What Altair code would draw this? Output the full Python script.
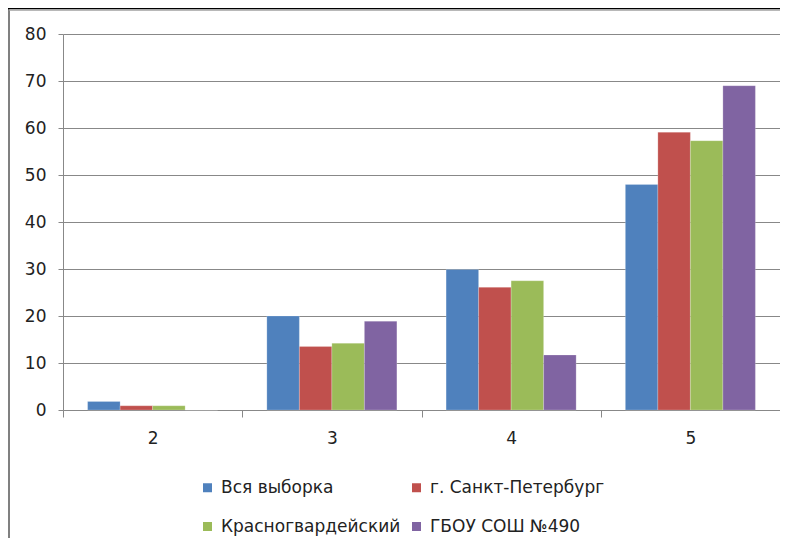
import altair as alt
import pandas as pd

categories = ["2", "3", "4", "5"]
series = ["Вся выборка", "г. Санкт-Петербург", "Красногвардейский", "ГБОУ СОШ №490"]
colors = ["#4F81BD", "#C0504D", "#9BBB59", "#8064A2"]
values_all = [1.8, 20.0, 29.9, 48.0]
values_spb = [0.9, 13.5, 26.1, 59.1]
values_krasn = [0.9, 14.2, 27.5, 57.3]
values_school = [0.0, 18.9, 11.7, 69.0]

rows = []
for s, vals in zip(series, [values_all, values_spb, values_krasn, values_school]):
    for c, v in zip(categories, vals):
        rows.append({"cat": c, "series": s, "value": v})
df = pd.DataFrame(rows)

FONT = "DejaVu Sans"

bars = alt.Chart(df).mark_bar(stroke="white", strokeOpacity=0.35, strokeWidth=0.6).encode(
    x=alt.X("cat:N", sort=categories, title=None,
            scale=alt.Scale(paddingInner=0, paddingOuter=0),
            axis=alt.Axis(labelAngle=0, tickBand="extent", ticks=True, tickSize=7,
                          tickColor="#888888", domainColor="#888888",
                          labelPadding=13, grid=False)),
    xOffset=alt.XOffset("series:N", sort=series,
                        scale=alt.Scale(paddingInner=0, paddingOuter=0.757)),
    y=alt.Y("value:Q", title=None,
            scale=alt.Scale(domain=[0, 80], nice=False),
            axis=alt.Axis(values=list(range(0, 81, 10)), tickSize=5, tickColor="#888888",
                          domainColor="#888888", gridColor="#888888", labelPadding=12)),
    color=alt.Color("series:N", sort=series,
                    scale=alt.Scale(domain=series, range=colors),
                    legend=alt.Legend(title=None, orient="none", legendX=136, legendY=445,
                                      direction="horizontal",
                                      columns=2, symbolType="square", symbolSize=81,
                                      symbolStrokeWidth=0, labelFontSize=17, labelFont=FONT,
                                      labelColor="#222222", rowPadding=21, columnPadding=7,
                                      labelOffset=5, labelLimit=400)),
)

frame = pd.DataFrame({"a": [0]})
left_line = alt.Chart(frame).mark_rule(color="#808080", strokeWidth=2).encode(
    x=alt.value(-54), y=alt.value(-26), y2=alt.value(510))
top_black = alt.Chart(frame).mark_rule(color="#000000", strokeWidth=1.5).encode(
    x=alt.value(-56), x2=alt.value(717), y=alt.value(-25.5))
top_gray = alt.Chart(frame).mark_rule(color="#a0a0a0", strokeWidth=1.5).encode(
    x=alt.value(-54), x2=alt.value(717), y=alt.value(-24))

chart = alt.layer(bars, left_line, top_black, top_gray).properties(
    width=717, height=376,
    autosize=alt.AutoSizeParams(type="none"),
    padding={"left": 55, "top": 26, "right": 0, "bottom": 128},
).configure_view(stroke=None).configure_axis(
    labelFont=FONT, labelFontSize=17, labelColor="#222222"
)

chart.save("out.html", embed_options={"renderer": "svg", "actions": False})
